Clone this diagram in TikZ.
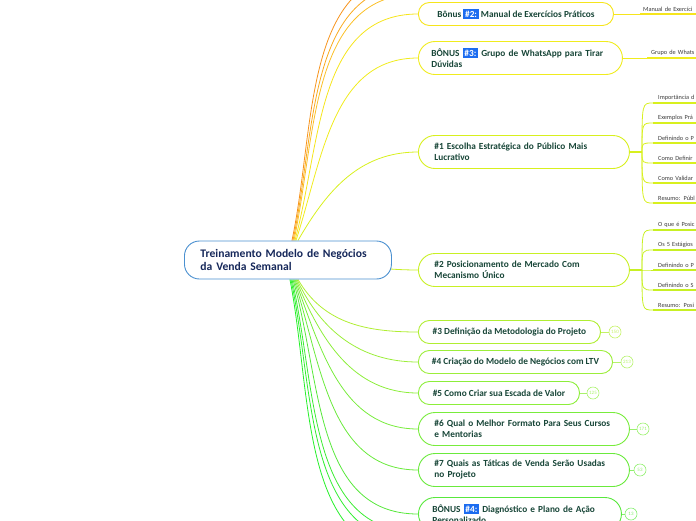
\documentclass[tikz,border=0pt]{standalone}
\usepackage{fontspec}
\setmainfont{Carlito}
\usetikzlibrary{calc,backgrounds}
\definecolor{rootblue}{RGB}{74,144,208}
\definecolor{rootnavy}{RGB}{22,40,90}
\definecolor{topictext}{RGB}{24,70,56}
\definecolor{subtext}{RGB}{60,60,60}
\definecolor{badgeblue}{RGB}{28,108,240}
\definecolor{orangeA}{RGB}{247,148,29}
\definecolor{orangeB}{RGB}{249,170,30}
\definecolor{orangeC}{RGB}{251,192,40}
\definecolor{yelB}{RGB}{246,229,28}
\definecolor{yelC}{RGB}{240,236,30}
\definecolor{limeA}{RGB}{216,240,30}
\definecolor{limeB}{RGB}{200,240,36}
\definecolor{grnA}{RGB}{176,238,50}
\definecolor{grnB}{RGB}{156,238,58}
\definecolor{grnC}{RGB}{140,238,58}
\definecolor{grnD}{RGB}{120,236,60}
\definecolor{grnE}{RGB}{106,234,60}
\definecolor{grnF}{RGB}{88,232,60}
\definecolor{grnG}{RGB}{60,236,52}
\definecolor{grnH}{RGB}{48,238,48}
\definecolor{grnI}{RGB}{36,240,40}
\newcommand{\badge}[1]{{\setlength{\fboxsep}{1.8pt}\colorbox{badgeblue}{\textcolor{white}{#1}}}}

\begin{document}
\begin{tikzpicture}[x=1pt,y=1pt,
  root/.style={draw=rootblue,line width=0.9pt,rounded corners=15pt,fill=white,
    text=rootnavy,font=\bfseries\fontsize{11.6}{13}\selectfont,align=left,
    text width=175pt,inner xsep=16pt,minimum height=38pt,anchor=west},
  topic/.style={draw=#1,line width=0.9pt,fill=white,text=topictext,
    font=\bfseries\fontsize{9.3}{11}\selectfont,align=left,anchor=west,
    rounded corners=11pt,minimum height=23pt,inner xsep=12pt},
  twoline/.style={rounded corners=16.5pt,minimum height=33pt},
  link/.style={draw=#1,line width=0.8pt},
  sub/.style={font=\fontsize{6.3}{7}\selectfont,text=subtext,anchor=south west,
    inner xsep=3pt,inner ysep=2.5pt,text width=60pt,align=left},
  under/.style={draw=#1,line width=1.8pt},
  count/.style={circle,draw=#1,text=#1,line width=0.6pt,inner sep=0pt,
    minimum size=12pt,font=\fontsize{5}{5}\selectfont}
]
\useasboundingbox (0,0) rectangle (696,-520);
\clip (0,0) rectangle (696,-520);

% central topic
\node[root] (root) at (184,-260) {Treinamento Modelo de Negócios\\da Venda Semanal};

% topics, top to bottom
\node[topic=yelB,minimum width=195pt] (bonus2) at (418,-14)
  {Bônus \badge{\#2:} Manual de Exercícios Práticos};
\node[topic=yelC,twoline,inner xsep=13pt,text width=178pt] (bonus3) at (418,-58)
  {BÔNUS \badge{\#3:} Grupo de WhatsApp para Tirar\\Dúvidas};
\node[topic=limeA,twoline,inner xsep=16pt,text width=179pt] (publico) at (418,-152)
  {\#1 Escolha Estratégica do Público Mais\\Lucrativo};
\node[topic=limeB,twoline,inner xsep=16pt,text width=179pt] (posicao) at (418,-270)
  {\#2 Posicionamento de Mercado Com\\Mecanismo Único};
\node[topic=grnA,minimum width=182pt] (metodo) at (418,-332)
  {\#3 Definição da Metodologia do Projeto};
\node[topic=grnB,minimum width=194pt] (modelo) at (418,-362)
  {\#4 Criação do Modelo de Negócios com LTV};
\node[topic=grnC,minimum width=161pt] (escada) at (418,-393)
  {\#5 Como Criar sua Escada de Valor};
\node[topic=grnD,twoline,inner xsep=16pt,text width=179pt] (formato) at (418,-429)
  {\#6 Qual o Melhor Formato Para Seus Cursos\\e Mentorias};
\node[topic=grnE,twoline,inner xsep=16pt,text width=179pt] (taticas) at (418,-470)
  {\#7 Quais as Táticas de Venda Serão Usadas\\no Projeto};
\node[topic=grnF,twoline,inner xsep=14pt,text width=175pt] (bonus4) at (418,-514)
  {BÔNUS \badge{\#4:} Diagnóstico e Plano de Ação\\Personalizado};

% branches leaving the picture
\coordinate (outA) at (418,28);
\coordinate (outB) at (418,16);
\coordinate (outC) at (418,6);
\coordinate (outD) at (418,-532);
\coordinate (outE) at (418,-542);
\coordinate (outF) at (418,-556);

% sub topics
\node[sub] (manual) at (640,-14) {Manual de Exercíci};
\node[sub,inner xsep=4pt] (grupo) at (647,-58) {Grupo de Whats};

\coordinate (forkA) at (642,-152);
\node[sub,inner xsep=5pt] (pubA) at (653,-103) {Importância d};
\node[sub,inner xsep=5pt] (pubB) at (653,-123) {Exemplos Prá};
\node[sub,inner xsep=5pt] (pubC) at (653,-143) {Definindo o P};
\node[sub,inner xsep=5pt] (pubD) at (653,-163) {Como Definir};
\node[sub,inner xsep=5pt] (pubE) at (653,-183) {Como Validar};
\node[sub,inner xsep=5pt] (pubF) at (653,-203) {Resumo: Públ};

\coordinate (forkB) at (642,-270);
\node[sub,inner xsep=5pt] (posA) at (653,-230) {O que é Posic};
\node[sub,inner xsep=5pt] (posB) at (653,-250) {Os 5 Estágios};
\node[sub,inner xsep=5pt] (posC) at (653,-270) {Definindo o P};
\node[sub,inner xsep=5pt] (posD) at (653,-290) {Definindo o S};
\node[sub,inner xsep=5pt] (posE) at (653,-310) {Resumo: Posi};

% hidden children counts
\node[count=grnA!75] (nMetodo) at (615,-332) {150};
\node[count=grnB!75] (nModelo) at (627,-362) {213};
\node[count=grnC!75] (nEscada) at (593,-393) {125};
\node[count=grnD!75] (nFormato) at (643,-429) {171};
\node[count=grnE!75] (nTaticas) at (640,-470) {53};
\node[count=grnF!75] (nBonus) at (631,-514) {13};

\begin{scope}[on background layer]
  \draw[link=orangeA] ([xshift=4pt]root.north) to[out=78,in=180] (outA);
  \draw[link=orangeB] ([xshift=5pt]root.north) to[out=78,in=180] (outB);
  \draw[link=orangeC] ([xshift=6pt]root.north) to[out=78,in=180] (outC);
  \draw[link=yelB] ([xshift=7pt]root.north) to[out=75,in=180] (bonus2.west);
  \draw[link=yelC] ([xshift=8pt]root.north) to[out=72,in=180] (bonus3.west);
  \draw[link=limeA] ([xshift=10pt]root.north) to[out=60,in=180] (publico.west);
  \draw[link=limeB] (root.center) to[out=0,in=180] (posicao.west);
  \draw[link=grnA] ([xshift=10pt]root.south) to[out=-60,in=180] (metodo.west);
  \draw[link=grnB] ([xshift=9pt]root.south) to[out=-65,in=180] (modelo.west);
  \draw[link=grnC] ([xshift=8pt]root.south) to[out=-68,in=180] (escada.west);
  \draw[link=grnD] ([xshift=7pt]root.south) to[out=-70,in=180] (formato.west);
  \draw[link=grnE] ([xshift=6pt]root.south) to[out=-72,in=180] (taticas.west);
  \draw[link=grnF] ([xshift=5pt]root.south) to[out=-74,in=180] (bonus4.west);
  \draw[link=grnG] ([xshift=4pt]root.south) to[out=-77,in=180] (outD);
  \draw[link=grnH] ([xshift=3pt]root.south) to[out=-78,in=180] (outE);
  \draw[link=grnI] ([xshift=2pt]root.south) to[out=-79,in=180] (outF);
\end{scope}

% sub topic links
\draw[link=yelB] (bonus2.east) -- (manual.south west);
\draw[under=yelB] (manual.south west) -- (manual.south east);
\draw[link=yelC] (bonus3.east) -- (grupo.south west);
\draw[under=yelC] (grupo.south west) -- (grupo.south east);

\draw[under=limeA] (publico.east) -- (forkA);
\foreach \c in {pubA,pubB,pubC,pubD,pubE,pubF}{
  \draw[link=limeA] (forkA) .. controls (forkA |- \c.south west) .. (\c.south west);
  \draw[under=limeA] (\c.south west) -- (\c.south east);
}
\draw[under=limeB] (posicao.east) -- (forkB);
\foreach \c in {posA,posB,posC,posD,posE}{
  \draw[link=limeB] (forkB) .. controls (forkB |- \c.south west) .. (\c.south west);
  \draw[under=limeB] (\c.south west) -- (\c.south east);
}

\draw[link=grnA!75] (metodo.east) -- (nMetodo);
\draw[link=grnB!75] (modelo.east) -- (nModelo);
\draw[link=grnC!75] (escada.east) -- (nEscada);
\draw[link=grnD!75] (formato.east) -- (nFormato);
\draw[link=grnE!75] (taticas.east) -- (nTaticas);
\draw[link=grnF!75] (bonus4.east) -- (nBonus);
\end{tikzpicture}
\end{document}
